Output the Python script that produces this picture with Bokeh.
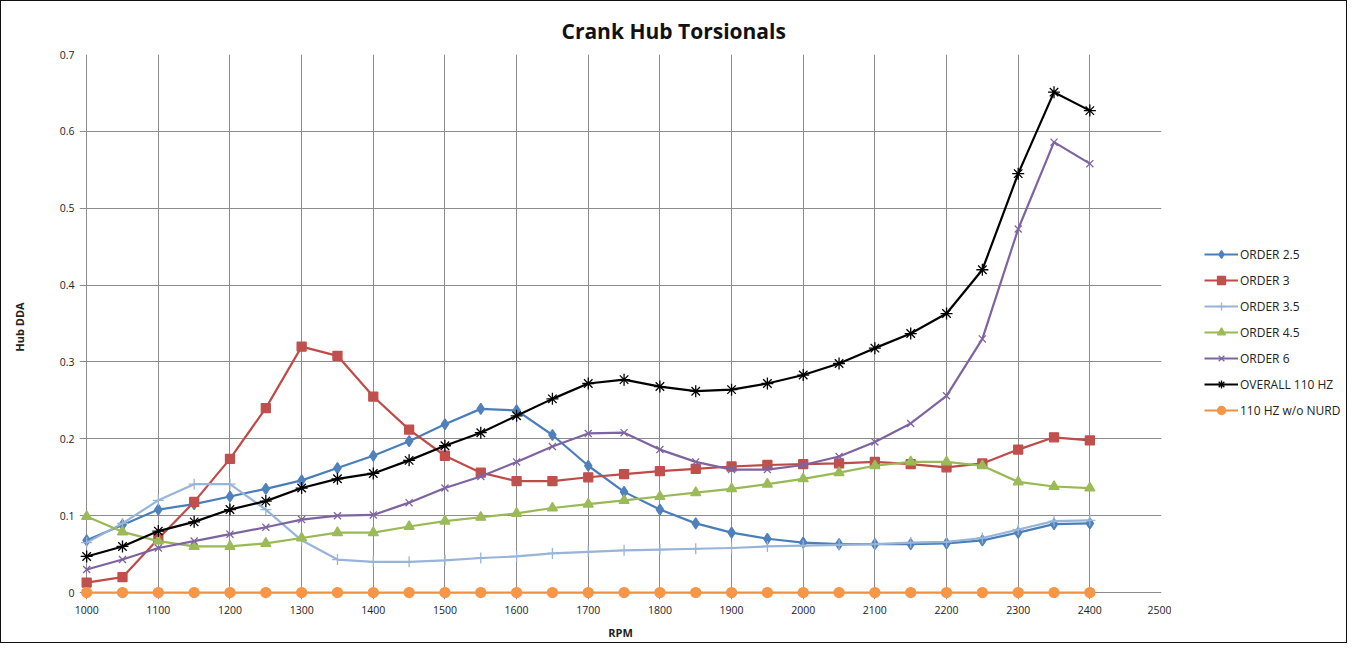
from bokeh.plotting import figure
from bokeh.layouts import row
from bokeh.models import Range1d, Legend, LegendItem, FixedTicker, CustomJSTickFormatter
from bokeh.embed import file_html
from bokeh.resources import INLINE

rpm = [1000, 1050, 1100, 1150, 1200, 1250, 1300, 1350, 1400, 1450, 1500, 1550, 1600, 1650, 1700,
       1750, 1800, 1850, 1900, 1950, 2000, 2050, 2100, 2150, 2200, 2250, 2300, 2350, 2400]

order_2_5 = [0.068, 0.088, 0.108, 0.115, 0.125, 0.135, 0.146, 0.162, 0.178, 0.197, 0.219, 0.239, 0.237, 0.205, 0.165,
             0.131, 0.108, 0.090, 0.078, 0.070, 0.065, 0.063, 0.063, 0.063, 0.064, 0.068, 0.078, 0.089, 0.090]
order_3 = [0.013, 0.020, 0.070, 0.118, 0.174, 0.240, 0.320, 0.308, 0.255, 0.212, 0.178, 0.156, 0.145, 0.145, 0.150,
           0.154, 0.158, 0.161, 0.164, 0.166, 0.167, 0.168, 0.170, 0.167, 0.163, 0.168, 0.186, 0.202, 0.198]
order_3_5 = [0.065, 0.090, 0.120, 0.141, 0.141, 0.108, 0.068, 0.043, 0.040, 0.040, 0.042, 0.045, 0.047, 0.051, 0.053,
             0.055, 0.056, 0.057, 0.058, 0.060, 0.061, 0.062, 0.063, 0.065, 0.066, 0.071, 0.082, 0.093, 0.094]
order_4_5 = [0.099, 0.079, 0.067, 0.060, 0.060, 0.064, 0.071, 0.078, 0.078, 0.086, 0.093, 0.098, 0.103, 0.110, 0.115,
             0.120, 0.125, 0.130, 0.135, 0.141, 0.148, 0.156, 0.165, 0.170, 0.170, 0.165, 0.144, 0.138, 0.136]
order_6 = [0.030, 0.043, 0.058, 0.067, 0.076, 0.085, 0.095, 0.100, 0.101, 0.117, 0.136, 0.151, 0.170, 0.190, 0.207,
           0.208, 0.186, 0.170, 0.160, 0.160, 0.166, 0.177, 0.196, 0.220, 0.256, 0.330, 0.473, 0.586, 0.558]
overall_110 = [0.047, 0.060, 0.080, 0.092, 0.108, 0.119, 0.136, 0.148, 0.155, 0.172, 0.191, 0.208, 0.230, 0.252, 0.272,
               0.277, 0.268, 0.262, 0.264, 0.272, 0.283, 0.298, 0.318, 0.337, 0.363, 0.420, 0.545, 0.651, 0.627]
no_nurd = [0.0] * 29

labels = ["ORDER 2.5", "ORDER 3", "ORDER 3.5", "ORDER 4.5", "ORDER 6", "OVERALL 110 HZ", "110 HZ w/o NURD"]

x_ticks = [1000, 1100, 1200, 1300, 1400, 1500, 1600, 1700, 1800, 1900, 2000, 2100, 2200, 2300, 2400, 2500]
y_ticks = [0, 0.1, 0.2, 0.3, 0.4, 0.5, 0.6, 0.7]

FONT = "Open Sans"
H = 641

# ranges padded slightly below/left of the axes so markers on the axes are not cut
p = figure(width=1170, height=H, output_backend="svg", toolbar_location=None,
           x_range=Range1d(990, 2500), y_range=Range1d(-0.009, 0.7),
           title="Crank Hub Torsionals", min_border_left=78, min_border_top=53,
           min_border_bottom=43, min_border_right=10)

p.title.align = "left"
p.title.offset = 482
p.title.standoff = 19
p.title.text_font = FONT
p.title.text_font_size = "21px"
p.title.text_font_style = "bold"
p.title.text_color = "#111111"

p.outline_line_color = None

for ax in (p.xaxis[0], p.yaxis[0]):
    ax.major_label_text_font = FONT
    ax.major_label_text_font_size = "10.5px"
    ax.major_label_text_color = "#222222"
    ax.axis_label_text_font = FONT
    ax.axis_label_text_font_size = "11px"
    ax.axis_label_text_font_style = "bold"
    ax.axis_label_text_color = "#222222"
    ax.axis_line_color = None
    ax.major_tick_line_color = None
    ax.minor_tick_line_color = None
    ax.major_tick_out = 0
    ax.major_tick_in = 0
    ax.minor_tick_out = 0
    ax.minor_tick_in = 0

p.xaxis.ticker = FixedTicker(ticks=x_ticks)
p.yaxis.ticker = FixedTicker(ticks=y_ticks)
p.yaxis.formatter = CustomJSTickFormatter(code="return tick == 0 ? '0' : tick.toFixed(1);")
p.xaxis.axis_label = "RPM"
p.yaxis.axis_label = "Hub DDA"
p.xaxis.major_label_standoff = 6
p.yaxis.major_label_standoff = 5
p.xaxis.axis_label_standoff = 8
p.yaxis.axis_label_standoff = 30

p.xgrid.ticker = FixedTicker(ticks=x_ticks)
p.ygrid.ticker = FixedTicker(ticks=y_ticks)
p.xgrid.bounds = (0, 5000)
p.ygrid.bounds = (-1, 1)
p.grid.grid_line_color = "#8c8c8c"
p.grid.grid_line_alpha = 1.0
p.grid.grid_line_width = 1

series_values = [order_2_5, order_3, order_3_5, order_4_5, order_6, overall_110, no_nurd]
styles = [
    ("#4A7EBB", "#4F81BD", "diamond", 11),
    ("#BE4B48", "#C0504D", "square", 9),
    ("#98B4D8", "#98B4D8", "cross", 11),
    ("#98B954", "#9BBB59", "triangle", 10),
    ("#7E63A1", "#8064A2", "x", 10),
    ("#000000", "#000000", "asterisk", 12),
    ("#F0903E", "#F79646", "circle", 10),
]

# legend figure placed to the right of the chart
q = figure(width=175, height=H, output_backend="svg", toolbar_location=None,
           x_range=Range1d(0, 1), y_range=Range1d(0, 1), min_border=0)
q.axis.visible = False
q.grid.visible = False
q.outline_line_color = None

items = []
for label, ys, (lc, mc, marker, size) in zip(labels, series_values, styles):
    p.line(rpm, ys, line_color=lc, line_width=2.2)
    p.scatter(rpm, ys, marker=marker, size=size, fill_color=mc, line_color=mc, line_width=1.3)
    r1 = q.line(rpm, ys, line_color=lc, line_width=2.2)
    r2 = q.scatter(rpm, ys, marker=marker, size=size, fill_color=mc, line_color=mc, line_width=1.3)
    items.append(LegendItem(label=label, renderers=[r1, r2]))

legend = Legend(items=items, location=(33, 179), border_line_color=None,
                background_fill_alpha=0, label_text_font=FONT, label_text_font_size="12px",
                label_text_color="#222222", glyph_width=34, glyph_height=20, spacing=6,
                label_standoff=2, padding=0, margin=0)
q.add_layout(legend, "center")

layout = row(p, q, styles={"border": "1.5px solid #111111"})

open("out.html", "w").write(file_html(layout, INLINE))
